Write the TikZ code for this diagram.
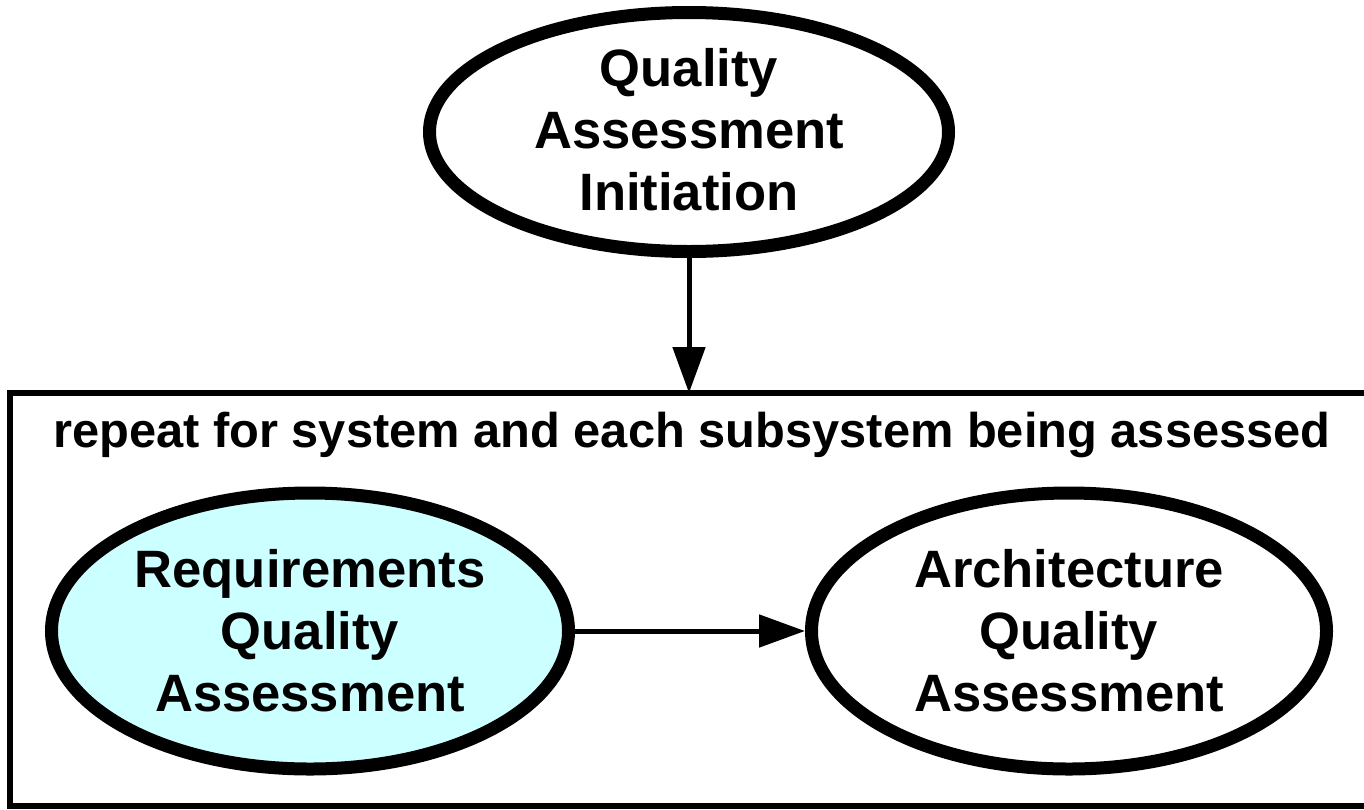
\documentclass[tikz,border=0pt]{standalone}
\usepackage{fontspec}
\setmainfont{Liberation Sans}
\usetikzlibrary{shapes.geometric,arrows.meta}
\definecolor{reqfill}{HTML}{CCFFFF}
\begin{document}
\begin{tikzpicture}[x=1pt,y=-1pt,
  oval/.style={ellipse, draw, line width=13pt, inner sep=0pt},
  lbl/.style={font=\bfseries\fontsize{52.6}{62}\selectfont, align=center, inner sep=0pt},
  flow/.style={line width=5pt, -{Triangle[length=46pt,width=32pt]}}]
\clip (0,0) rectangle (1364,809);
\useasboundingbox (0,0) rectangle (1364,809);
\fill[white] (0,0) rectangle (1364,809);
\node[draw, line width=6pt, minimum width=1420pt, minimum height=413pt,
      anchor=north west, inner sep=0pt, outer sep=0pt] (loop) at (10.3,393) {};
\node[anchor=base west, inner sep=0pt, font=\bfseries\fontsize{48.8}{58}\selectfont]
  (looplbl) at (53,447) {repeat for system and each subsystem being assessed};
\node[oval, minimum width=519pt, minimum height=239pt] (init) at (689,132) {};
\node[lbl] (initT) at (689,130) {Quality\\Assessment\\Initiation};
\node[oval, fill=reqfill, minimum width=517pt, minimum height=276pt] (req) at (310,631) {};
\node[lbl] (reqT) at (req.center) {Requirements\\Quality\\Assessment};
\node[oval, minimum width=515pt, minimum height=276pt] (arch) at (1069,631) {};
\node[lbl] (archT) at (arch.center) {Architecture\\Quality\\Assessment};
\draw[flow] (init.south) -- (init.south |- loop.north);
\draw[flow] (req.east) -- (arch.west);
\end{tikzpicture}
\end{document}
